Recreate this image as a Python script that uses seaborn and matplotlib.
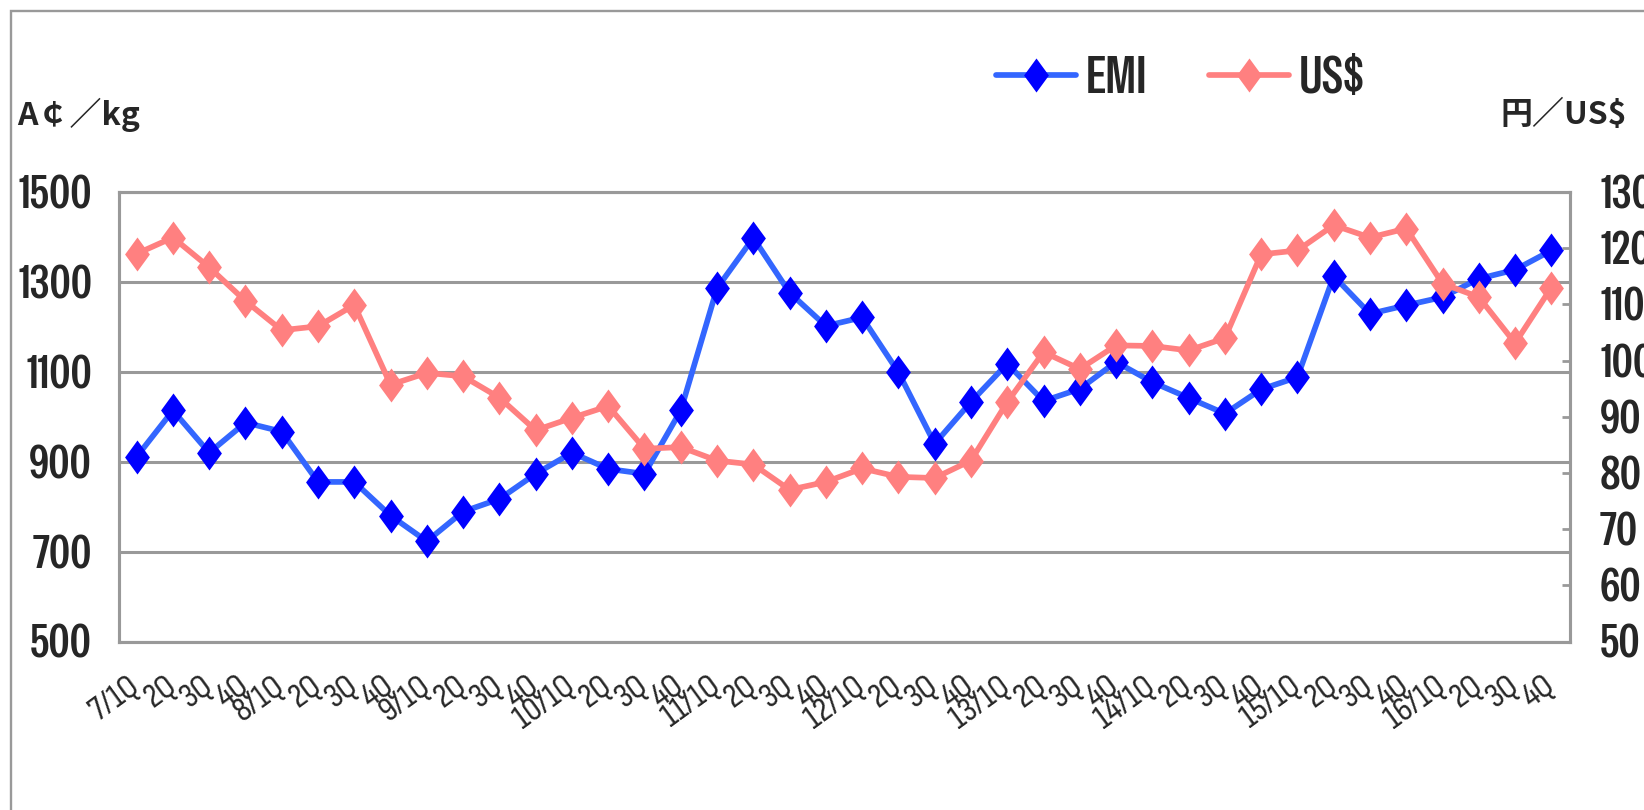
import numpy as np
import pandas as pd
import seaborn as sns
import matplotlib
matplotlib.use("Agg")
import matplotlib.pyplot as plt
from matplotlib.path import Path
from matplotlib.lines import Line2D
from matplotlib.patches import Rectangle
from matplotlib import font_manager as fm

# ---------------- data ----------------
years = [7, 8, 9, 10, 11, 12, 13, 14, 15, 16]
quarters = ["1Q", "2Q", "3Q", "4Q"]
tick_labels = [f"{y}/{q}" if q == "1Q" else q for y in years for q in quarters]

emi = [911, 1014, 920, 987, 967, 855, 855, 780, 723, 789,
       817, 873, 920, 884, 873, 1014, 1286, 1398, 1276, 1202,
       1221, 1099, 940, 1033, 1118, 1035, 1062, 1122, 1077, 1042,
       1007, 1061, 1088, 1313, 1229, 1248, 1266, 1307, 1327, 1370]
usd = [119.0, 121.9, 116.6, 110.6, 105.4, 106.1, 109.9, 95.7, 97.8, 97.2,
       93.4, 87.6, 89.8, 91.9, 84.3, 84.6, 82.2, 81.5, 77.0, 78.4,
       80.8, 79.3, 79.1, 82.2, 92.6, 101.5, 98.5, 102.7, 102.6, 101.8,
       104.0, 118.9, 119.6, 124.1, 121.9, 123.5, 113.7, 111.3, 103.1, 113.0]

left_ticks = [500, 700, 900, 1100, 1300, 1500]
right_ticks = [50, 60, 70, 80, 90, 100, 110, 120, 130]

# ---------------- style ----------------
sns.set_style("white")
avail = {f.name for f in fm.fontManager.ttflist}


def pick(cands):
    for c in cands:
        if c in avail:
            return c
    return "DejaVu Sans"


NUMF = pick(["Special Gothic Condensed One", "Sofia Sans Condensed", "Encode Sans Condensed", "Liberation Sans"])
XF = pick(["Sofia Sans Condensed", "Encode Sans Condensed", "Saira SemiCondensed", "Liberation Sans"])
LEGF = pick(["Special Gothic Condensed One", "Encode Sans Condensed", "Sofia Sans Condensed", "Liberation Sans"])
plt.rcParams["font.family"] = [NUMF, "Noto Sans CJK JP", "DejaVu Sans"]

GRAY = "#999999"
BLUE_LINE = "#3366FF"
BLUE_MARK = "#0000FF"
PINK = "#FF8080"

diamond = Path([(0, 1), (0.73, 0), (0, -1), (-0.73, 0), (0, 1)],
               [Path.MOVETO, Path.LINETO, Path.LINETO, Path.LINETO, Path.CLOSEPOLY])

W, H = 1644, 810
fig = plt.figure(figsize=(W / 100, H / 100), dpi=100)

# outer chart frame (cropped on right/bottom)
fig.patches.append(Rectangle((11 / W, -0.2), 1.2, 1.2 - 11 / H,
                             transform=fig.transFigure, fill=False,
                             edgecolor=GRAY, lw=1.7, zorder=0))

left, right, top, bottom = 118.5, 1569.5, 192, 641.5
ax = fig.add_axes([left / W, 1 - bottom / H, (right - left) / W, (bottom - top) / H])

df = pd.DataFrame({"idx": np.arange(len(emi)), "EMI": emi, "USD": usd})

sns.lineplot(data=df, x="idx", y="EMI", ax=ax, color=BLUE_LINE, lw=4.1,
             marker=diamond, markersize=24.5, markeredgewidth=0, legend=False)
l1 = ax.lines[-1]
l1.set_markerfacecolor(BLUE_MARK)
l1.set_markeredgecolor(BLUE_MARK)

ax.set_xlim(-0.5, len(emi) - 0.5)
ax.set_ylim(500, 1500)
ax.set_yticks(left_ticks)
ax.set_xticks(np.arange(len(emi)))
ax.set_xticklabels(tick_labels, rotation=36, ha="right", va="center",
                   rotation_mode="anchor", fontsize=25, family=[XF, "DejaVu Sans"])
ax.set_xticks(np.arange(len(emi) - 1) + 0.5, minor=True)
ax.tick_params(axis="x", which="major", length=0, pad=30)
ax.tick_params(axis="x", which="minor", direction="in", length=7, width=2, color=GRAY)
ax.tick_params(axis="y", length=0, pad=19, labelsize=33)
ax.set_xlabel("")
ax.set_ylabel("")
ax.grid(axis="y", color=GRAY, lw=2.2)
ax.grid(axis="x", visible=False)
ax.set_axisbelow(True)
for s in ax.spines.values():
    s.set_color(GRAY)
    s.set_linewidth(2.2)

ax2 = ax.twinx()
sns.lineplot(data=df, x="idx", y="USD", ax=ax2, color=PINK, lw=4.1,
             marker=diamond, markersize=24.5, markeredgewidth=0, legend=False)
l2 = ax2.lines[-1]
l2.set_markerfacecolor(PINK)
l2.set_markeredgecolor(PINK)
ax2.set_ylim(50, 130)
ax2.set_yticks(right_ticks)
ax2.tick_params(axis="y", direction="in", length=6, width=2, color=GRAY,
                pad=22, labelsize=33)
ax2.set_ylabel("")
ax2.set_xlabel("")
for s in ax2.spines.values():
    s.set_color(GRAY)
    s.set_linewidth(2.2)

# unit labels
fig.text(17 / W, 1 - 115 / H, "A￠／kg", ha="left", va="center", fontsize=23,
         fontweight="bold", family=["Noto Sans CJK JP", "DejaVu Sans"])
fig.text(1500 / W, 1 - 115 / H, "円／US$", ha="left", va="center", fontsize=23,
         fontweight="bold", family=["Noto Sans CJK JP", "DejaVu Sans"])

# legend
handles = [Line2D([], [], color=BLUE_LINE, lw=4.1, marker=diamond, markersize=24.5,
                  markerfacecolor=BLUE_MARK, markeredgewidth=0),
           Line2D([], [], color=PINK, lw=4.1, marker=diamond, markersize=24.5,
                  markerfacecolor=PINK, markeredgewidth=0)]
fig.legend(handles, ["EMI", "US$"], loc="center left",
           bbox_to_anchor=(996 / W, 1 - 79 / H), ncol=2, frameon=False,
           borderpad=0, borderaxespad=0, handlelength=1.55, handletextpad=0.2,
           columnspacing=1.2, prop={"family": LEGF, "size": 37})

fig.savefig("out.png", dpi=100)
